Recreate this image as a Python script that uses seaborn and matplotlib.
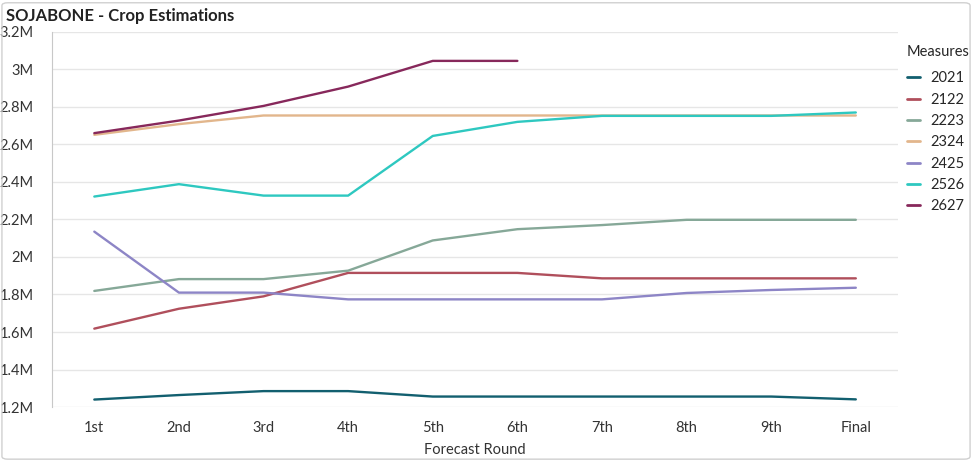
import numpy as np
import pandas as pd
import seaborn as sns
import matplotlib.pyplot as plt
from matplotlib.ticker import FuncFormatter
from matplotlib.patches import FancyBboxPatch

rounds = ['1st', '2nd', '3rd', '4th', '5th', '6th', '7th', '8th', '9th', 'Final']
seasons = ['2021', '2122', '2223', '2324', '2425', '2526', '2627']

s2021 = [1.240, 1.264, 1.285, 1.285, 1.256, 1.256, 1.256, 1.256, 1.256, 1.241]
s2122 = [1.618, 1.724, 1.790, 1.915, 1.915, 1.915, 1.886, 1.886, 1.886, 1.886]
s2223 = [1.819, 1.882, 1.882, 1.927, 2.088, 2.148, 2.170, 2.198, 2.198, 2.198]
s2324 = [2.651, 2.708, 2.754, 2.754, 2.754, 2.754, 2.754, 2.754, 2.754, 2.754]
s2425 = [2.135, 1.810, 1.810, 1.774, 1.774, 1.774, 1.774, 1.808, 1.824, 1.836]
s2526 = [2.322, 2.388, 2.327, 2.327, 2.645, 2.720, 2.752, 2.752, 2.752, 2.770]
s2627 = [2.660, 2.727, 2.805, 2.908, 3.045, 3.045, np.nan, np.nan, np.nan, np.nan]

colors = ['#125f6f', '#b04f5c', '#86a898', '#e2b68c', '#8d85c6', '#2ec8c0', '#87285b']

rows = []
for name, vals in zip(seasons, [s2021, s2122, s2223, s2324, s2425, s2526, s2627]):
    for r, v in zip(rounds, vals):
        if not np.isnan(v):
            rows.append({'Forecast Round': r, 'Measures': name, 'value': v * 1e6})
df = pd.DataFrame(rows)

sns.set_style('white')
plt.rcParams['font.family'] = ['Lato', 'DejaVu Sans']

fig = plt.figure(figsize=(9.72, 4.61), dpi=100)
ax = fig.add_axes([0.0535, 0.117, 0.8705, 0.814])

sns.lineplot(data=df, x='Forecast Round', y='value', hue='Measures',
             palette=dict(zip(seasons, colors)), linewidth=1.7, ax=ax,
             sort=False, errorbar=None)

ax.set_xlim(-0.5, 9.5)
ax.set_ylim(1.2e6, 3.2e6)
ax.set_yticks(np.arange(1.2e6, 3.21e6, 0.2e6))
ax.yaxis.set_major_formatter(FuncFormatter(lambda v, p: f'{v/1e6:g}M'))
ax.grid(axis='y', color='#e6e6e6', linewidth=1)
ax.set_axisbelow(True)
for s in ['top', 'right', 'bottom']:
    ax.spines[s].set_visible(False)
ax.spines['left'].set_color('#c8c8c8')
ax.tick_params(axis='both', length=0, labelsize=10.5, colors='#333333')
ax.tick_params(axis='y', pad=13)
ax.tick_params(axis='x', pad=10)
ax.set_ylabel('')
ax.set_xlabel('Forecast Round', fontsize=10.5, color='#333333', labelpad=6)

leg = ax.legend(title='Measures', loc='upper left', bbox_to_anchor=(1.01, 0.965),
                frameon=False, fontsize=10.5, title_fontsize=10.5, borderaxespad=0,
                borderpad=0, handlelength=0.9, handletextpad=0.7, labelspacing=0.5)
leg._legend_box.align = 'left'
leg._legend_box.sep = 9
for line in leg.get_lines():
    line.set_linewidth(2)

fig.text(0.006, 0.965, 'SOJABONE - Crop Estimations', fontsize=12, fontweight='bold',
         color='#222222', va='center')

fig.patches.append(FancyBboxPatch((0.002, 0.004), 0.996, 0.99, boxstyle='round,pad=0,rounding_size=0.006',
                                  transform=fig.transFigure, fill=False, edgecolor='#d0d0d0', linewidth=1))

fig.savefig('out.png', dpi=100)
